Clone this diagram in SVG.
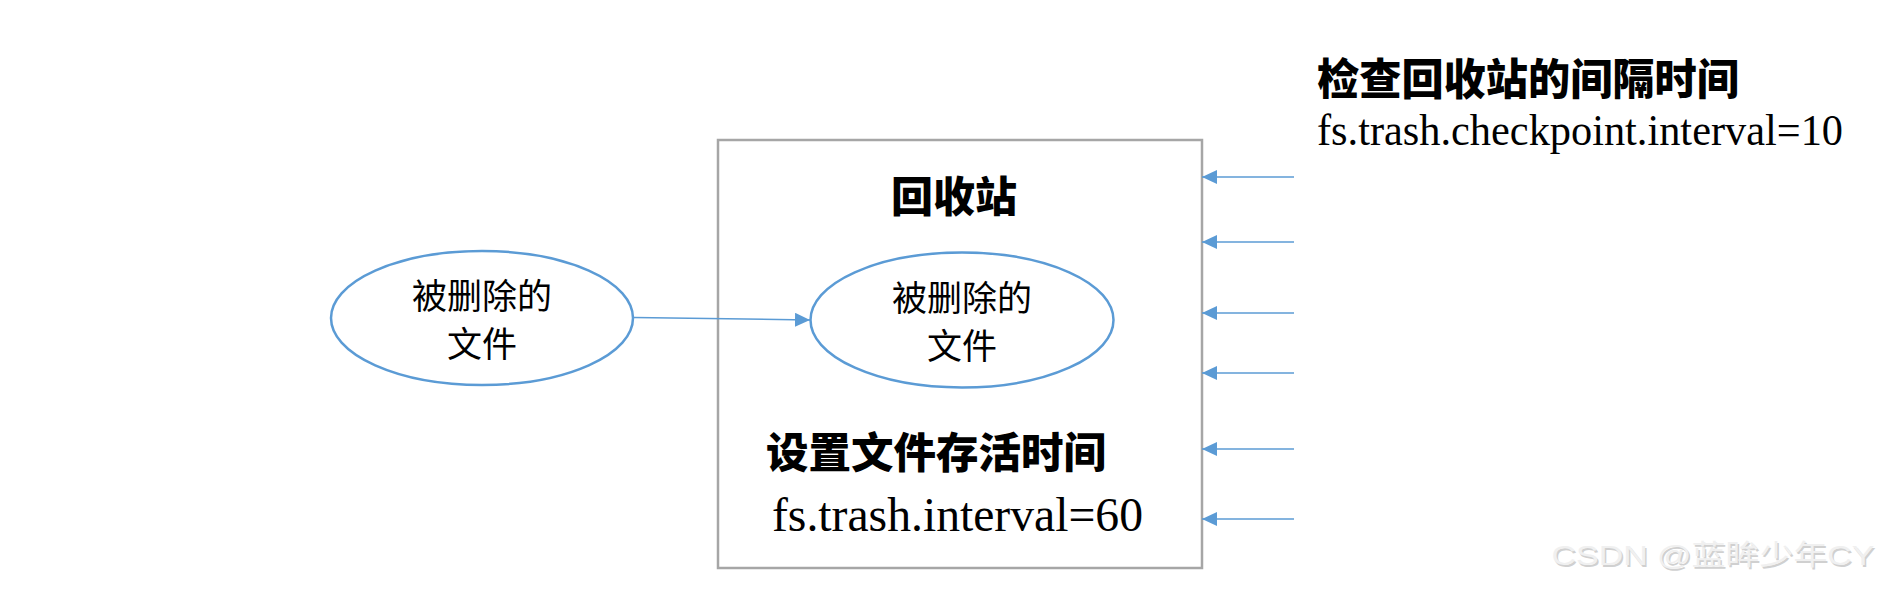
<svg xmlns="http://www.w3.org/2000/svg" width="1879" height="589" viewBox="0 0 1879 589">
<defs>
<style>
.ell{fill:none;stroke:#5b9bd5;stroke-width:2.5}
.conn{stroke:#5b9bd5;stroke-width:1.5;fill:none}
.cjk{font-family:"Noto Sans CJK SC","Noto Sans",sans-serif;fill:#000}
.bold{font-weight:900}
.serif{font-family:"Liberation Serif","Times New Roman",serif;fill:#000}
.wm{font-family:"Liberation Sans","Noto Sans CJK SC",sans-serif;font-size:28px}
</style>
<marker id="ah" markerWidth="15" markerHeight="14" refX="15" refY="7" orient="auto" markerUnits="userSpaceOnUse">
<path d="M0,0 L15,7 L0,14 Z" fill="#5b9bd5"/>
</marker>
</defs>
<rect width="1879" height="589" fill="#fff"/>
<g id="trash-box">
<rect x="718" y="140" width="484" height="428" fill="none" stroke="#a6a6a6" stroke-width="2.5"/>
<text class="cjk bold" x="954" y="212" font-size="42" text-anchor="middle">回收站</text>
<text class="cjk bold" x="766" y="468" font-size="42" textLength="340" lengthAdjust="spacingAndGlyphs">设置文件存活时间</text>
<text class="serif" x="772" y="531" font-size="48" textLength="371" lengthAdjust="spacingAndGlyphs">fs.trash.interval=60</text>
</g>
<g id="deleted-file-outside">
<ellipse class="ell" cx="482" cy="318" rx="151" ry="67"/>
<text class="cjk" x="482" y="309" font-size="35" text-anchor="middle">被删除的</text>
<text class="cjk" x="482" y="357" font-size="35" text-anchor="middle">文件</text>
</g>
<g id="deleted-file-inside">
<ellipse class="ell" cx="962" cy="320" rx="151.5" ry="67.5"/>
<text class="cjk" x="962" y="311" font-size="35" text-anchor="middle">被删除的</text>
<text class="cjk" x="962" y="359" font-size="35" text-anchor="middle">文件</text>
</g>
<g id="checkpoint-label">
<text class="cjk bold" x="1317" y="95" font-size="43" textLength="422" lengthAdjust="spacingAndGlyphs">检查回收站的间隔时间</text>
<text class="serif" x="1317" y="145" font-size="45" textLength="526" lengthAdjust="spacingAndGlyphs">fs.trash.checkpoint.interval=10</text>
</g>
<g id="connectors">
<line class="conn" x1="634" y1="317.5" x2="810" y2="320" marker-end="url(#ah)"/>
<line class="conn" x1="1294" y1="177" x2="1202" y2="177" marker-end="url(#ah)"/>
<line class="conn" x1="1294" y1="242" x2="1202" y2="242" marker-end="url(#ah)"/>
<line class="conn" x1="1294" y1="313" x2="1202" y2="313" marker-end="url(#ah)"/>
<line class="conn" x1="1294" y1="373" x2="1202" y2="373" marker-end="url(#ah)"/>
<line class="conn" x1="1294" y1="449" x2="1202" y2="449" marker-end="url(#ah)"/>
<line class="conn" x1="1294" y1="519" x2="1202" y2="519" marker-end="url(#ah)"/>
</g>
<g id="watermark">
<text class="wm" x="1553" y="566.5" fill="#d0d0d0" textLength="323" lengthAdjust="spacingAndGlyphs">CSDN @蓝眸少年CY</text>
<text class="wm" x="1551.5" y="565" fill="#f0f0f0" textLength="323" lengthAdjust="spacingAndGlyphs">CSDN @蓝眸少年CY</text>
</g>
</svg>
